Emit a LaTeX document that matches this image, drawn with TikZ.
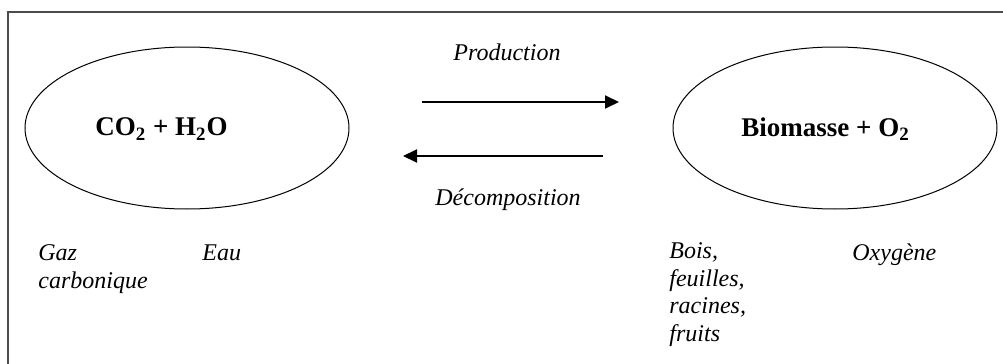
\documentclass[tikz,border=0pt]{standalone}
\usepackage{fontspec}
\setmainfont{Liberation Serif}
\usetikzlibrary{arrows.meta,shapes.geometric}
\tikzset{
  pool/.style={shape=ellipse,draw=black,line width=0.5pt,minimum width=162pt,minimum height=81pt,inner sep=0pt},
  formula/.style={font=\fontsize{13.5}{16}\selectfont\bfseries,inner sep=0pt,anchor=west},
  tag/.style={font=\fontsize{12}{13.7}\selectfont\itshape,inner sep=0pt,align=left,anchor=base west},
  flow/.style={line width=1pt,-{Triangle[length=7pt,width=6.5pt]}}
}
\begin{document}
\begin{tikzpicture}[x=0.5pt,y=-0.5pt]
            \useasboundingbox (0,0) rectangle (1003,364);
            % frame
            \draw[line width=1pt,black!70] (8,364) -- (8,12) -- (1003,12);

            % pools
            \node[pool] (p1) at (187,128) {};
            \node[pool] (p2) at (835,128) {};
            \node[formula] (f1) at (95,129) {CO\textsubscript{2} + H\textsubscript{2}O};
            \node[formula] (f2) at (741,129) {Biomasse + O\textsubscript{2}};

            % arrows
            \coordinate (a1) at (422,102);
            \coordinate (b1) at (619,102);
            \coordinate (a2) at (603,156);
            \coordinate (b2) at (403,156);
            \path [flow](a1) edge (b1);
            \path [flow](a2) edge (b2);
            \node[tag] (prod) at (453,61) {Production};
            \node[tag] (dec) at (435,205) {Décomposition};

            % legends (base = last line)
            \node[tag] (gaz) at (38,288) {Gaz\\carbonique};
            \node[tag] (eau) at (202,260) {Eau};
            \node[tag] (bois) at (669,341) {Bois,\\feuilles,\\racines,\\fruits};
            \node[tag] (oxy) at (852,260) {Oxygène};
        \end{tikzpicture}
\end{document}
